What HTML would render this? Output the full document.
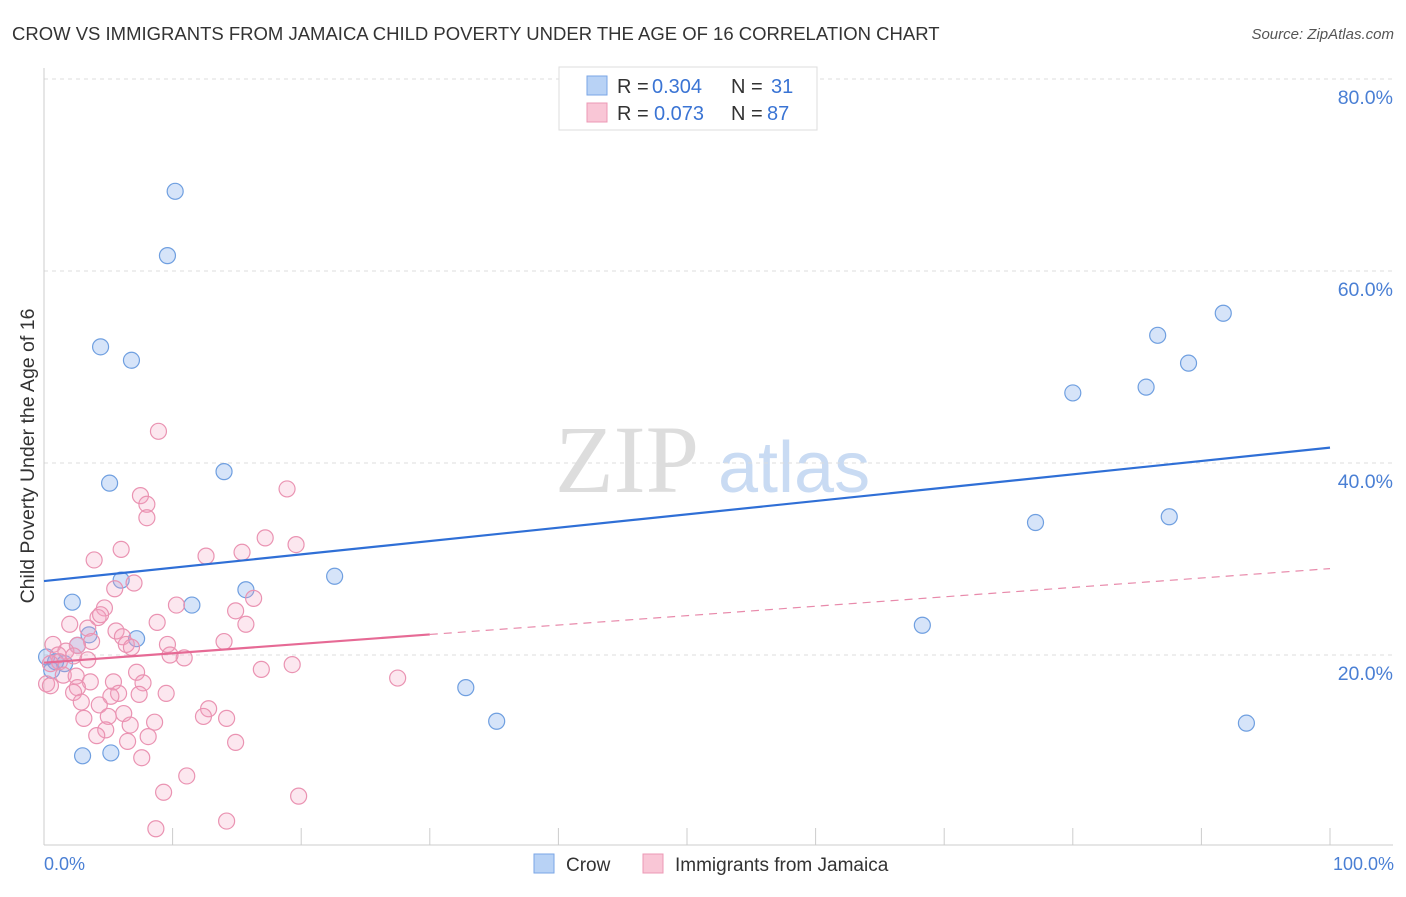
<!DOCTYPE html>
<html><head><meta charset="utf-8"><style>
body{margin:0;background:#fff;font-family:"Liberation Sans",sans-serif;}
</style></head><body>
<svg width="1406" height="892" xmlns="http://www.w3.org/2000/svg" style="font-family:'Liberation Sans',sans-serif">
<text x="12" y="40" font-size="18.5" fill="#333">CROW VS IMMIGRANTS FROM JAMAICA CHILD POVERTY UNDER THE AGE OF 16 CORRELATION CHART</text>
<text x="1394" y="39" font-size="15" fill="#555" font-style="italic" text-anchor="end">Source: ZipAtlas.com</text>
<text x="555" y="492" font-size="96" fill="#ddd" font-family="'Liberation Serif',serif">ZIP</text>
<text x="718" y="492" font-size="72" fill="#c9dbf3">atlas</text>
<g id="grid"></g>
<g id="axes"></g>
<g id="marks"></g>
<text transform="translate(34,456) rotate(-90)" font-size="19.5" fill="#333" text-anchor="middle">Child Poverty Under the Age of 16</text>
<text x="44" y="870" font-size="18" fill="#4a7fd4">0.0%</text>
<text x="1394" y="870" font-size="18" fill="#4a7fd4" text-anchor="end">100.0%</text>
<g>
<rect x="559" y="67" width="258" height="63" fill="#fff" stroke="#ddd"/>
<rect x="587" y="76" width="20" height="19" fill="#b8d2f5" stroke="#7aa6e6"/>
<rect x="587" y="103" width="20" height="19" fill="#f9c6d6" stroke="#ec98b5"/>
<text y="93" font-size="20" fill="#333"><tspan x="617">R =</tspan><tspan x="652" fill="#3a74d4">0.304</tspan><tspan x="731">N =</tspan><tspan x="771" fill="#3a74d4">31</tspan></text>
<text y="120" font-size="20" fill="#333"><tspan x="617">R =</tspan><tspan x="654" fill="#3a74d4">0.073</tspan><tspan x="731">N =</tspan><tspan x="767" fill="#3a74d4">87</tspan></text>
</g>
<g>
<rect x="534" y="854" width="20" height="19" fill="#b8d2f5" stroke="#7aa6e6"/>
<text x="566" y="871" font-size="19" fill="#333">Crow</text>
<rect x="643" y="854" width="20" height="19" fill="#f9c6d6" stroke="#ec98b5"/>
<text x="675" y="871" font-size="19" fill="#333">Immigrants from Jamaica</text>
</g>
</svg>
<script>
const yTicks=[20,40,60,80];
const yTickLabels=["20.0%","40.0%","60.0%","80.0%"];
const xTicks=[0,10,20,30,40,50,60,70,80,90,100];
const crowX=[10.2,9.6,4.4,6.8,5.1,14.0,6.0,2.2,11.5,15.7,22.6,3.5,7.2,2.6,0.2,0.6,1.6,3.0,5.2,32.8,35.2,68.3,77.1,80.0,85.7,86.6,89.0,87.5,91.7,93.5,0.9];
const crowY=[68.3,61.6,52.1,50.7,37.9,39.1,27.8,25.5,25.2,26.8,28.2,22.1,21.7,21.0,19.8,18.4,19.1,9.5,9.8,16.6,13.1,23.1,33.8,47.3,47.9,53.3,50.4,34.4,55.6,12.9,19.3];
const jamX=[8.9,18.9,7.5,8.0,8.0,17.2,19.6,6.0,15.4,12.6,3.9,7.0,5.5,16.3,10.3,14.9,4.7,4.2,4.4,8.8,15.7,2.0,3.4,5.6,6.1,3.7,6.4,14.0,9.6,6.8,0.7,2.6,1.7,1.1,2.3,10.9,9.8,3.4,1.2,0.5,16.9,19.3,7.2,1.5,2.5,0.2,0.5,3.6,5.4,7.7,27.5,2.6,2.3,5.8,5.2,7.4,9.5,2.9,4.3,12.8,6.2,5.0,3.1,12.4,14.2,8.6,6.7,4.8,4.1,8.1,6.5,14.9,7.6,11.1,9.3,19.8,14.2,8.7];
const jamY=[43.3,37.3,36.6,35.7,34.3,32.2,31.5,31.0,30.7,30.3,29.9,27.5,26.9,25.9,25.2,24.6,24.9,23.9,24.2,23.4,23.2,23.2,22.8,22.5,21.9,21.4,21.1,21.4,21.1,20.8,21.1,21.0,20.4,20.0,19.9,19.7,20.0,19.5,19.3,19.1,18.5,19.0,18.2,17.9,17.8,17.0,16.8,17.2,17.2,17.1,17.6,16.6,16.1,16.0,15.7,15.9,16.0,15.1,14.8,14.4,13.9,13.6,13.4,13.6,13.4,13.0,12.7,12.2,11.6,11.5,11.0,10.9,9.3,7.4,5.7,5.3,2.7,1.9];
const crowTrend=[27.7,41.6];
const jamTrend=[19.2,29.0];
const jamSolidEnd=30;
const sx=v=>44+v*12.86, sy=v=>847-v*9.6;
const NS="http://www.w3.org/2000/svg";
function mk(t,a,p){const e=document.createElementNS(NS,t);for(const k in a)e.setAttribute(k,a[k]);document.getElementById(p).appendChild(e);return e;}
yTicks.forEach((t,i)=>{
 const g=mk('line',{x1:44,x2:1393,y1:sy(t),y2:sy(t),stroke:'#ddd','stroke-dasharray':'4,4'},'grid');
 
 
 const l=mk('text',{x:1393,y:sy(t)+25,'font-size':19.5,fill:'#4a7fd4','text-anchor':'end'},'grid');
 l.textContent=yTickLabels[i];
 
 
});
mk('line',{x1:44,x2:44,y1:68,y2:845,stroke:'#ccc'},'axes');
mk('line',{x1:44,x2:1393,y1:845,y2:845,stroke:'#ccc'},'axes');
xTicks.forEach(t=>{
 const e=mk('line',{x1:sx(t),x2:sx(t),y1:828,y2:845,stroke:'#ccc'},'axes');
 
 
});
crowX.forEach((x,i)=>{
 const c=mk('circle',{cx:sx(x),cy:sy(crowY[i]),r:8,fill:'rgba(120,165,235,0.3)',stroke:'#6f9fe0','stroke-width':1.2},'marks');
 
 
});
jamX.forEach((x,i)=>{
 const c=mk('circle',{cx:sx(x),cy:sy(jamY[i]),r:8,fill:'rgba(245,160,190,0.25)',stroke:'#ea93b2','stroke-width':1.2},'marks');
 
 
});
const tl=mk('line',{x1:sx(0),y1:sy(crowTrend[0]),x2:sx(100),y2:sy(crowTrend[1]),stroke:'#2f6fd6','stroke-width':2.2},'marks');


const jm=v=>jamTrend[0]+(jamTrend[1]-jamTrend[0])*v/100;
const j1=mk('line',{x1:sx(0),y1:sy(jm(0)),x2:sx(jamSolidEnd),y2:sy(jm(jamSolidEnd)),stroke:'#e66a95','stroke-width':2.2},'marks');


const j2=mk('line',{x1:sx(jamSolidEnd),y1:sy(jm(jamSolidEnd)),x2:sx(100),y2:sy(jm(100)),stroke:'#e88aab','stroke-width':1.2,'stroke-dasharray':'8,6'},'marks');


</script>
</body></html>
